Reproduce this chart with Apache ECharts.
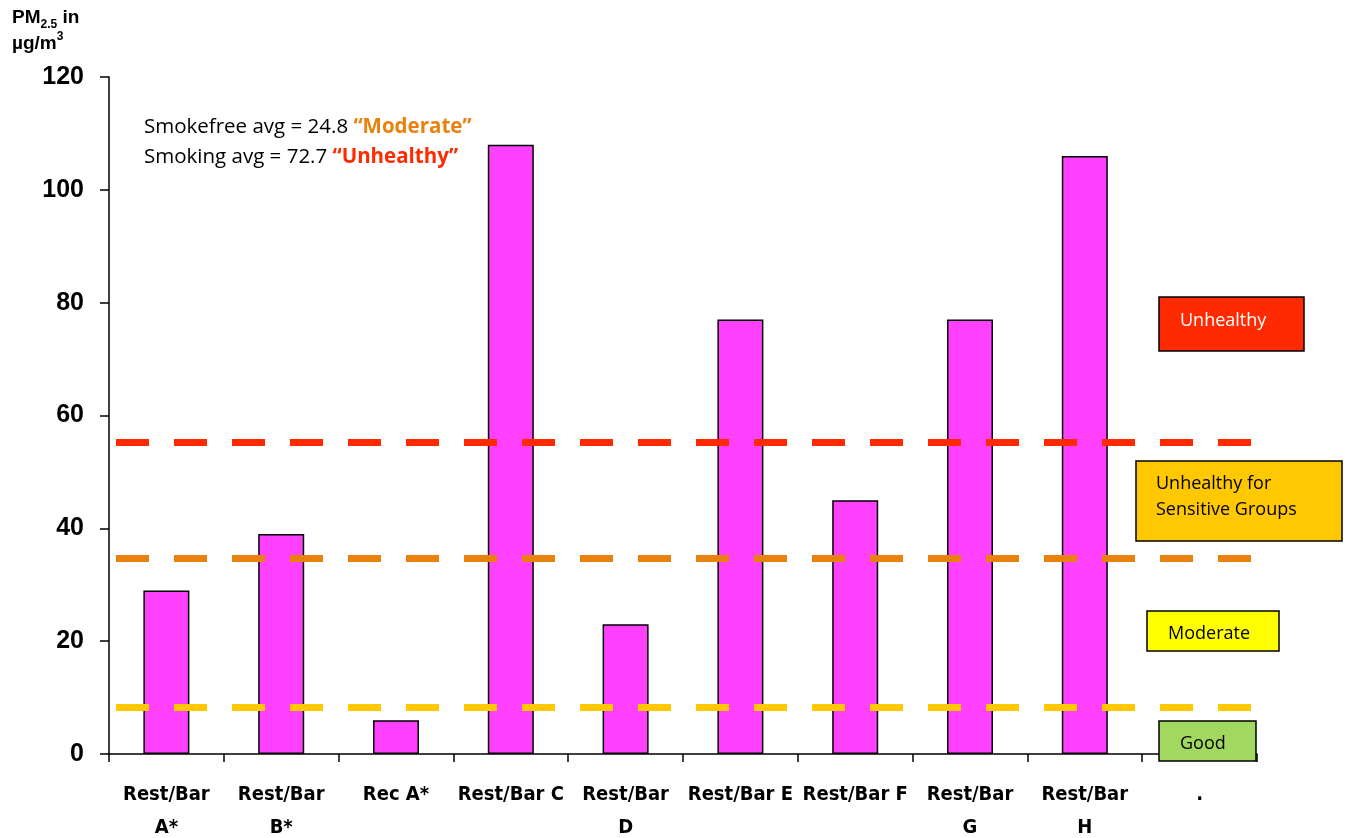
<!DOCTYPE html>
<html><head><meta charset="utf-8">
<script src="https://cdn.jsdelivr.net/npm/echarts@6/dist/echarts.min.js"></script>
<style>html,body{margin:0;padding:0;background:#fff}#c{width:1349px;height:838px}</style>
</head><body><div id="c"></div>
<script>
const categories = ['Rest/Bar\nA*','Rest/Bar\nB*','Rec A*','Rest/Bar C','Rest/Bar\nD','Rest/Bar E','Rest/Bar F','Rest/Bar\nG','Rest/Bar\nH','.'];
const pmValues = [29, 39, 6, 108, 23, 77, 45, 77, 106, null];
const yTicks = {min: 0, max: 120, interval: 20};
const thresholds = [
  {name: 'Unhealthy', value: 55.3, color: '#FF2A00'},
  {name: 'USG', value: 34.7, color: '#E8820C'},
  {name: 'Moderate', value: 8.3, color: '#FFC800'}
];

const chart = echarts.init(document.getElementById('c'));
const box = (x, y, w, h, fill, lines, tx, ty, tcolor) => ({
  type: 'group', children: [
    {type: 'rect', shape: {x: x, y: y, width: w, height: h}, style: {fill: fill, stroke: '#000', lineWidth: 1.5}, z: 10},
    {type: 'text', x: tx, y: ty, z: 11, style: {text: lines, fill: tcolor, font: '18px "Open Sans", "Noto Sans", sans-serif', lineHeight: 26, verticalAlign: 'middle'}}
  ]
});
chart.setOption({
  animation: false,
  grid: {left: 109, right: 92, top: 77, bottom: 84, outerBoundsMode: 'none', containLabel: false},
  xAxis: {
    type: 'category', data: categories,
    axisLine: {lineStyle: {color: '#000', width: 1.5}},
    axisTick: {show: true, length: 8, lineStyle: {color: '#000', width: 1.5}, alignWithLabel: false},
    axisLabel: {interval: 0, color: '#000', fontWeight: 'bold', fontSize: 20, lineHeight: 33, margin: 24,
      fontFamily: '"DejaVu Sans Condensed", "Liberation Sans Narrow", sans-serif'}
  },
  yAxis: {
    type: 'value', min: yTicks.min, max: yTicks.max, interval: yTicks.interval,
    splitLine: {show: false},
    axisLine: {show: true, lineStyle: {color: '#000', width: 1.5}},
    axisTick: {show: true, length: 9, lineStyle: {color: '#000', width: 1.5}},
    axisLabel: {color: '#000', fontWeight: 'bold', fontSize: 25, margin: 25, fontFamily: '"Liberation Sans", Arial, sans-serif'}
  },
  series: [{
    type: 'bar', data: pmValues, barWidth: 46,
    itemStyle: {color: '#FF40FF', borderColor: '#000', borderWidth: 1.5},
    markLine: {
      silent: true, symbol: 'none', label: {show: false},
      data: thresholds.map(t => ({yAxis: t.value, lineStyle: {color: t.color, width: 7, type: [33, 25], dashOffset: -7}}))
    },
    z: 2
  }],
  graphic: [
    {type: 'text', left: 12, top: 8, style: {
      text: '{b|PM}{s|2.5}{b| in}\n{b|\u00b5g/m}{p|3}',
      rich: {
        b: {font: 'bold 19px "Liberation Sans", Arial, sans-serif', fill: '#000', lineHeight: 26},
        s: {font: 'bold 12px "Liberation Sans", Arial, sans-serif', fill: '#000', verticalAlign: 'bottom', lineHeight: 26, padding: [8,0,0,0]},
        p: {font: 'bold 12px "Liberation Sans", Arial, sans-serif', fill: '#000', verticalAlign: 'top', lineHeight: 26, padding: [0,0,10,0]}
      }}},
    {type: 'text', left: 144, top: 117, style: {
      text: '{n|Smokefree avg = 24.8 }{o|\u201cModerate\u201d}\n{n|Smoking avg = 72.7 }{r|\u201cUnhealthy\u201d}',
      rich: {
        n: {font: '20.5px "Open Sans", "Noto Sans", sans-serif', fill: '#000', lineHeight: 30},
        o: {font: 'bold 20.5px "Open Sans", "Noto Sans", sans-serif', fill: '#E8820C', lineHeight: 30},
        r: {font: 'bold 20.5px "Open Sans", "Noto Sans", sans-serif', fill: '#FF2A00', lineHeight: 30}
      }}},
    box(1159, 297, 145, 54, '#FF2A00', 'Unhealthy', 1180, 321, '#fff'),
    box(1136, 461, 206, 80, '#FFC800', 'Unhealthy for\nSensitive Groups', 1156, 497, '#000'),
    box(1147, 611, 132, 40, '#FFFF00', 'Moderate', 1168, 634, '#000'),
    box(1159, 721, 97, 40, '#A0D860', 'Good', 1180, 744, '#000')
  ]
});
</script></body></html>
